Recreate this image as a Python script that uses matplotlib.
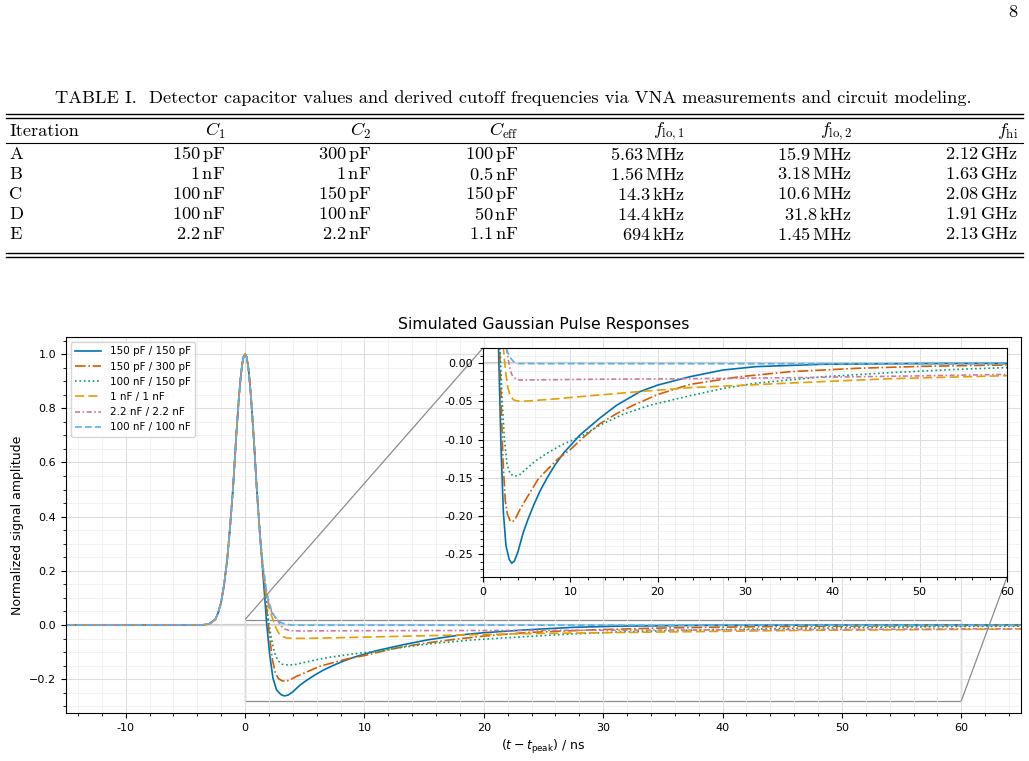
import matplotlib.pyplot as plt
import numpy as np
from matplotlib.ticker import AutoMinorLocator, MultipleLocator, FormatStrFormatter
from mpl_toolkits.axes_grid1.inset_locator import mark_inset

# ---- table data ----
header = ["Iteration", r"$C_1$", r"$C_2$", r"$C_{\mathrm{eff}}$",
          r"$f_{\mathrm{lo},1}$", r"$f_{\mathrm{lo},2}$", r"$f_{\mathrm{hi}}$"]
iterations = ["A", "B", "C", "D", "E"]
c1 = ["150 pF", "1 nF", "100 nF", "100 nF", "2.2 nF"]
c2 = ["300 pF", "1 nF", "150 pF", "100 nF", "2.2 nF"]
c_eff = ["100 pF", "0.5 nF", "150 pF", "50 nF", "1.1 nF"]
f_lo1 = ["5.63 MHz", "1.56 MHz", "14.3 kHz", "14.4 kHz", "694 kHz"]
f_lo2 = ["15.9 MHz", "3.18 MHz", "10.6 MHz", "31.8 kHz", "1.45 MHz"]
f_hi = ["2.12 GHz", "1.63 GHz", "2.08 GHz", "1.91 GHz", "2.13 GHz"]
caption = ("TABLE I.  Detector capacitor values and derived cutoff frequencies "
           "via VNA measurements and circuit modeling.")

# ---- pulse data ----
# common leading edge / top of the pulse
t_rise = [-15, -4, -3.5, -3, -2.5, -2.25, -2, -1.75, -1.5, -1.25, -1, -0.75,
          -0.5, -0.375, -0.25, -0.125, 0, 0.125, 0.25, 0.375, 0.5, 0.75, 1.0,
          1.25]
v_rise = [0, 0, 0.0005, 0.004, 0.02, 0.045, 0.085, 0.15, 0.24, 0.365, 0.51,
          0.69, 0.85, 0.91, 0.96, 0.99, 1.0, 0.99, 0.958, 0.905, 0.84, 0.675,
          0.49, 0.33]

labels = ["150 pF / 150 pF", "150 pF / 300 pF", "100 nF / 150 pF",
          "1 nF / 1 nF", "2.2 nF / 2.2 nF", "100 nF / 100 nF"]

t_a = [1.5, 1.65, 1.8, 2.06, 2.33, 2.63, 3.0, 3.3, 3.6, 4.0, 4.6, 5.2, 5.8,
       6.5, 7.3, 8.2, 9.2, 11.1, 13.4, 15.3, 18, 20, 23.7, 27.5, 31.3, 39, 50, 65]
v_a = [0.19, 0.1, 0.01, -0.108, -0.195, -0.239, -0.257, -0.262, -0.259,
       -0.247, -0.222, -0.203, -0.186, -0.168, -0.151, -0.134, -0.118, -0.094,
       -0.0716, -0.055, -0.037, -0.0286, -0.0176, -0.0088, -0.0044, -0.0013,
       -0.0004, 0]

t_b = [1.5, 1.7, 1.9, 2.1, 2.3, 2.55, 2.8, 3.1, 3.35, 3.7, 4.3, 5.4, 6.3, 7.3,
       8.5, 10, 11.5, 13.4, 15.3, 17.2, 20, 23.7, 29.4, 35.2, 42.8, 50.4, 60, 65]
v_b = [0.2, 0.11, 0.02, -0.06, -0.13, -0.18, -0.198, -0.206, -0.208, -0.204,
       -0.19, -0.169, -0.152, -0.14, -0.126, -0.113, -0.097, -0.079, -0.066,
       -0.055, -0.041, -0.0277, -0.0176, -0.011, -0.0066, -0.004, -0.0022,
       -0.0015]

t_c = [1.5, 1.75, 1.95, 2.2, 2.45, 2.75, 3.1, 3.65, 4.2, 5, 6, 7.3, 9, 11.1,
       13.4, 16, 19.1, 23.7, 27.5, 31.3, 39, 46.6, 54.2, 60, 65]
v_c = [0.205, 0.1, 0.02, -0.05, -0.1, -0.132, -0.145, -0.148, -0.146, -0.138,
       -0.128, -0.118, -0.107, -0.0965, -0.081, -0.067, -0.055, -0.0425, -0.033,
       -0.026, -0.0176, -0.0123, -0.008, -0.0057, -0.0045]

t_d = [1.5, 1.75, 2.0, 2.33, 2.6, 2.85, 3.1, 3.5, 4.05, 5, 8, 12.25, 18, 23.7,
       35.2, 46.6, 60, 65]
v_d = [0.21, 0.12, 0.065, 0.02, -0.012, -0.032, -0.042, -0.048, -0.0496,
       -0.0495, -0.047, -0.0426, -0.037, -0.032, -0.0259, -0.0202, -0.0163,
       -0.015]

t_e = [1.5, 1.75, 2.0, 2.25, 2.5, 2.8, 3.05, 3.3, 3.7, 4.2, 8, 12, 20, 35, 50,
       60, 65]
v_e = [0.215, 0.13, 0.075, 0.045, 0.03, 0.012, -0.005, -0.015, -0.02, -0.022,
       -0.0215, -0.021, -0.0205, -0.019, -0.0165, -0.0145, -0.014]

t_f = [1.5, 1.75, 2.0, 2.25, 2.5, 2.75, 3.0, 3.5, 4.0, 65]
v_f = [0.22, 0.14, 0.085, 0.05, 0.03, 0.017, 0.009, 0.002, -0.0005, -0.0008]

tails = [(t_a, v_a), (t_b, v_b), (t_c, v_c), (t_d, v_d), (t_e, v_e), (t_f, v_f)]
colors = ["#0072B2", "#D55E00", "#009E73", "#E69F00", "#CC79A7", "#56B4E9"]
styles = ["-", "-.", ":", (0, (5.5, 2.5)), (0, (3, 1.5, 1, 1.5)), (0, (4, 2))]

fig = plt.figure(figsize=(10.29, 7.61), dpi=100)
W, H = 1029, 761


def fx(px):
    return px / W


def fy(py):
    return 1 - py / H


def val(s):
    num, unit = s.split(" ")
    return r"$%s\,\mathrm{%s}$" % (num, unit)


# ---- table ----
tfont = dict(fontfamily="cmr10", fontsize=13.2, math_fontfamily="cm")
fig.text(fx(1013), fy(12), "8", ha="center", va="center", **tfont)
fig.text(fx(513), fy(98), caption, ha="center", va="center", **tfont)
for y, lw in [(113.5, 1.0), (118.3, 1.0), (142.8, 0.8), (252.7, 1.0), (257.5, 1.0)]:
    fig.add_artist(plt.Line2D([fx(6), fx(1023)], [fy(y), fy(y)], color="k", lw=lw))

col_x = [225, 371, 518, 685, 852, 1018]
fig.text(fx(9), fy(131), header[0], ha="left", va="center", **tfont)
for x, h in zip(col_x, header[1:]):
    fig.text(fx(x), fy(131), h, ha="right", va="center", **tfont)
row_y = [154, 174, 194, 214, 234]
for i, y in enumerate(row_y):
    fig.text(fx(9), fy(y), iterations[i], ha="left", va="center", **tfont)
    for x, col in zip(col_x, [c1, c2, c_eff, f_lo1, f_lo2, f_hi]):
        fig.text(fx(x), fy(y), val(col[i]), ha="right", va="center", **tfont)

# ---- main chart ----
ax = fig.add_axes([fx(66), fy(713), fx(1021 - 66), (713 - 337) / H])
ax.axhline(0, color="0.8", lw=1.6, zorder=1)
for (tt, vv), c, ls, lab in zip(tails, colors, styles, labels):
    ax.plot(t_rise + tt, v_rise + vv, color=c, ls=ls, lw=1.2, label=lab)
ax.set_xlim(-15, 65)
ax.set_ylim(-0.325, 1.063)
ax.set_xticks([-10, 0, 10, 20, 30, 40, 50, 60])
ax.set_xticklabels(["-10", "0", "10", "20", "30", "40", "50", "60"])
ax.xaxis.set_minor_locator(MultipleLocator(2))
ax.yaxis.set_minor_locator(AutoMinorLocator(4))
ax.grid(True, which="major", color="0.87", lw=0.8)
ax.grid(True, which="minor", color="0.94", lw=0.6)
ax.tick_params(labelsize=8)
ax.set_title("Simulated Gaussian Pulse Responses", fontsize=11.3)
ax.set_xlabel(r"$(t - t_{\mathrm{peak}})$ / ns", fontsize=9)
ax.set_ylabel("Normalized signal amplitude", fontsize=9)
ax.legend(loc="upper left", fontsize=7.5, handlelength=2.5)

# ---- inset ----
axins = fig.add_axes([fx(483), fy(577), fx(1007 - 483), (577 - 348) / H])
axins.axhline(0, color="0.8", lw=1.6, zorder=1)
for (tt, vv), c, ls in zip(tails, colors, styles):
    axins.plot(t_rise + tt, v_rise + vv, color=c, ls=ls, lw=1.2)
axins.set_xlim(0, 60)
axins.set_ylim(-0.28, 0.02)
axins.xaxis.set_major_locator(MultipleLocator(10))
axins.xaxis.set_minor_locator(MultipleLocator(2))
axins.yaxis.set_major_locator(MultipleLocator(0.05))
axins.yaxis.set_minor_locator(MultipleLocator(0.01))
axins.yaxis.set_major_formatter(FormatStrFormatter("%.2f"))
axins.grid(True, which="major", color="0.87", lw=0.8)
axins.grid(True, which="minor", color="0.94", lw=0.6)
axins.tick_params(labelsize=8)
mark_inset(ax, axins, loc1=2, loc2=4, fc="none", ec="0.55", lw=0.9)

fig.savefig("out.png", dpi=100)
